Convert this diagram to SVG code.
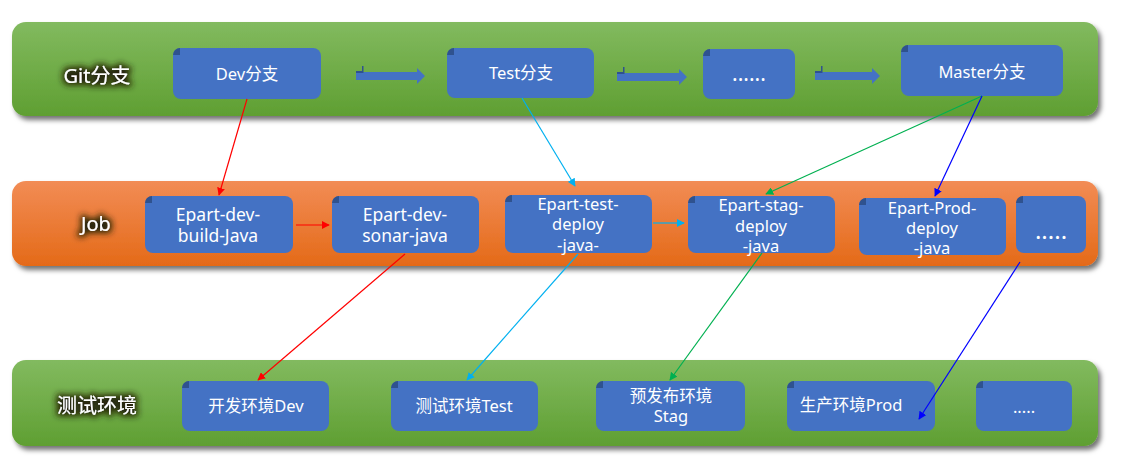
<svg xmlns="http://www.w3.org/2000/svg" width="1124" height="473" viewBox="0 0 1124 473">
<defs>
<linearGradient id="gGreen" x1="0" y1="0" x2="0" y2="1">
<stop offset="0" stop-color="#82ba5f"/>
<stop offset="1" stop-color="#5f9f32"/>
</linearGradient>
<linearGradient id="gOrange" x1="0" y1="0" x2="0" y2="1">
<stop offset="0" stop-color="#f28c55"/>
<stop offset="1" stop-color="#e46a18"/>
</linearGradient>
<filter id="shadow" x="-5%" y="-20%" width="110%" height="150%">
<feDropShadow dx="3" dy="4" stdDeviation="2.5" flood-color="#000" flood-opacity="0.55"/>
</filter>
<filter id="glow" x="-30%" y="-50%" width="160%" height="200%">
<feMorphology in="SourceAlpha" operator="dilate" radius="2" result="d"/>
<feGaussianBlur in="d" stdDeviation="3" result="b"/>
<feFlood flood-color="#252408" flood-opacity="1"/>
<feComposite in2="b" operator="in" result="s"/>
<feMerge><feMergeNode in="s"/><feMergeNode in="SourceGraphic"/></feMerge>
</filter>
<marker id="aRed" viewBox="0 0 10 10" refX="9" refY="5" markerWidth="8" markerHeight="8" markerUnits="userSpaceOnUse" orient="auto"><path d="M0,0 L10,5 L0,10 z" fill="#ff0000"/></marker>
<marker id="aCyan" viewBox="0 0 10 10" refX="9" refY="5" markerWidth="8" markerHeight="8" markerUnits="userSpaceOnUse" orient="auto"><path d="M0,0 L10,5 L0,10 z" fill="#00b0f0"/></marker>
<marker id="aGreen" viewBox="0 0 10 10" refX="9" refY="5" markerWidth="8" markerHeight="8" markerUnits="userSpaceOnUse" orient="auto"><path d="M0,0 L10,5 L0,10 z" fill="#00b050"/></marker>
<marker id="aBlue" viewBox="0 0 10 10" refX="9" refY="5" markerWidth="8" markerHeight="8" markerUnits="userSpaceOnUse" orient="auto"><path d="M0,0 L10,5 L0,10 z" fill="#0000ff"/></marker>
</defs>
<style>
.band{filter:url(#shadow)}
.node{fill:#4472c4}
.tag{fill:#2f528f}
.t{font-family:"Noto Sans","Noto Sans CJK SC",sans-serif;font-size:16.5px;fill:#fff;text-anchor:middle}
.t2{font-family:"Noto Sans","Noto Sans CJK SC",sans-serif;font-size:17.5px;fill:#fff;text-anchor:middle}
.t3{font-family:"Noto Sans","Noto Sans CJK SC",sans-serif;font-size:16.5px;fill:#fff;text-anchor:middle}
.lbl{font-family:"Noto Sans","Noto Sans CJK SC",sans-serif;font-size:20px;fill:#fff;text-anchor:middle;filter:url(#glow)}
.c{fill:none;stroke-width:1.2}
.fat{fill:#4472c4}
</style>
<rect width="1124" height="473" fill="#fff"/>

<g id="band-git">
<rect class="band" x="12" y="22" width="1086" height="94" rx="14" fill="url(#gGreen)"/>
<text class="lbl" x="97" y="83">Git分支</text>
</g>
<g id="band-job">
<rect class="band" x="12" y="181" width="1086" height="85" rx="14" fill="url(#gOrange)"/>
<text class="lbl" x="96" y="231">Job</text>
</g>
<g id="band-env">
<rect class="band" x="12" y="360" width="1086" height="86" rx="14" fill="url(#gGreen)"/>
<text class="lbl" x="97" y="413">测试环境</text>
</g>

<g id="branch-arrows">
<path class="fat" d="M356,72 H417 V68 L425,76 L417,84 V80 H356 Z"/>
<path class="tag" d="M356,71 h6 v-5 h1.5 v7 h-7.5 z"/>
<path class="fat" d="M617,73 H679 V69 L687,77 L679,85 V81 H617 Z"/>
<path class="tag" d="M617,72 h6 v-5 h1.5 v7 h-7.5 z"/>
<path class="fat" d="M815,72 H872 V68 L880,76 L872,84 V80 H815 Z"/>
<path class="tag" d="M815,71 h6 v-5 h1.5 v7 h-7.5 z"/>
</g>

<g id="n-dev-branch">
<rect class="node" x="173" y="48" width="148" height="51" rx="8"/>
<path class="tag" d="M173,55 A7,7 0 0 1 180,48 V55 Z"/>
<text class="t" x="247" y="80">Dev分支</text>
</g>
<g id="n-test-branch">
<rect class="node" x="447" y="48" width="147" height="50" rx="8"/>
<path class="tag" d="M447,55 A7,7 0 0 1 454,48 V55 Z"/>
<text class="t" x="521" y="79">Test分支</text>
</g>
<g id="n-more-branch">
<rect class="node" x="703" y="49" width="92" height="50" rx="8"/>
<path class="tag" d="M703,56 A7,7 0 0 1 710,49 V56 Z"/>
<text class="t" x="749" y="81" style="font-size:21px">......</text>
</g>
<g id="n-master-branch">
<rect class="node" x="901" y="45" width="162" height="51" rx="8"/>
<path class="tag" d="M901,52 A7,7 0 0 1 908,45 V52 Z"/>
<text class="t" x="982" y="78">Master分支</text>
</g>

<g id="n-build">
<rect class="node" x="145" y="196" width="148" height="57" rx="8"/>
<path class="tag" d="M145,203 A7,7 0 0 1 152,196 V203 Z"/>
<text class="t2" x="218" y="221">Epart-dev-</text>
<text class="t2" x="218" y="242">build-Java</text>
</g>
<g id="n-sonar">
<rect class="node" x="332" y="196" width="147" height="57" rx="8"/>
<path class="tag" d="M332,203 A7,7 0 0 1 339,196 V203 Z"/>
<text class="t2" x="405" y="221">Epart-dev-</text>
<text class="t2" x="405" y="242">sonar-java</text>
</g>
<g id="n-test-deploy">
<rect class="node" x="505" y="195" width="147" height="58" rx="8"/>
<path class="tag" d="M505,202 A7,7 0 0 1 512,195 V202 Z"/>
<text class="t3" x="578" y="210">Epart-test-</text>
<text class="t3" x="578" y="230">deploy</text>
<text class="t3" x="578" y="251">-java-</text>
</g>
<g id="n-stag-deploy">
<rect class="node" x="688" y="196" width="147" height="57" rx="8"/>
<path class="tag" d="M688,203 A7,7 0 0 1 695,196 V203 Z"/>
<text class="t3" x="761" y="211">Epart-stag-</text>
<text class="t3" x="761" y="232">deploy</text>
<text class="t3" x="761" y="252">-java</text>
</g>
<g id="n-prod-deploy">
<rect class="node" x="859" y="198" width="147" height="57" rx="8"/>
<path class="tag" d="M859,205 A7,7 0 0 1 866,198 V205 Z"/>
<text class="t3" x="932" y="214">Epart-Prod-</text>
<text class="t3" x="932" y="234">deploy</text>
<text class="t3" x="932" y="254">-java</text>
</g>
<g id="n-more-job">
<rect class="node" x="1016" y="196" width="70" height="57" rx="8"/>
<path class="tag" d="M1016,203 A7,7 0 0 1 1023,196 V203 Z"/>
<text class="t2" x="1051" y="239" style="font-size:24px">.....</text>
</g>

<g id="n-env-dev">
<rect class="node" x="182" y="381" width="147" height="50" rx="8"/>
<path class="tag" d="M182,388 A7,7 0 0 1 189,381 V388 Z"/>
<text class="t" x="256" y="412">开发环境Dev</text>
</g>
<g id="n-env-test">
<rect class="node" x="391" y="381" width="147" height="50" rx="8"/>
<path class="tag" d="M391,388 A7,7 0 0 1 398,381 V388 Z"/>
<text class="t" x="464" y="412">测试环境Test</text>
</g>
<g id="n-env-stag">
<rect class="node" x="596" y="381" width="149" height="50" rx="8"/>
<path class="tag" d="M596,388 A7,7 0 0 1 603,381 V388 Z"/>
<text class="t" x="671" y="402">预发布环境</text>
<text class="t" x="671" y="422">Stag</text>
</g>
<g id="n-env-prod">
<rect class="node" x="787" y="381" width="148" height="50" rx="8"/>
<path class="tag" d="M787,388 A7,7 0 0 1 794,381 V388 Z"/>
<text class="t" x="851" y="411">生产环境Prod</text>
</g>
<g id="n-env-more">
<rect class="node" x="976" y="381" width="96" height="50" rx="8"/>
<path class="tag" d="M976,388 A7,7 0 0 1 983,381 V388 Z"/>
<text class="t" x="1024" y="413">.....</text>
</g>

<g id="connectors">
<line class="c" stroke="#ff0000" x1="247" y1="99" x2="219" y2="195" marker-end="url(#aRed)"/>
<line class="c" stroke="#ff0000" x1="296" y1="225" x2="329" y2="225" marker-end="url(#aRed)"/>
<line class="c" stroke="#ff0000" x1="405" y1="254" x2="258" y2="380" marker-end="url(#aRed)"/>
<line class="c" stroke="#00b0f0" x1="522" y1="98" x2="575" y2="186" marker-end="url(#aCyan)"/>
<line class="c" stroke="#00b0f0" x1="653" y1="223" x2="684" y2="223" marker-end="url(#aCyan)"/>
<line class="c" stroke="#00b0f0" x1="578" y1="254" x2="467" y2="380" marker-end="url(#aCyan)"/>
<line class="c" stroke="#00b050" x1="982" y1="96" x2="766" y2="194" marker-end="url(#aGreen)"/>
<line class="c" stroke="#00b050" x1="762" y1="253" x2="670" y2="380" marker-end="url(#aGreen)"/>
<line class="c" stroke="#0000ff" x1="982" y1="96" x2="935" y2="196" marker-end="url(#aBlue)"/>
<line class="c" stroke="#0000ff" x1="1020" y1="262" x2="919" y2="419" marker-end="url(#aBlue)"/>
</g>
</svg>
